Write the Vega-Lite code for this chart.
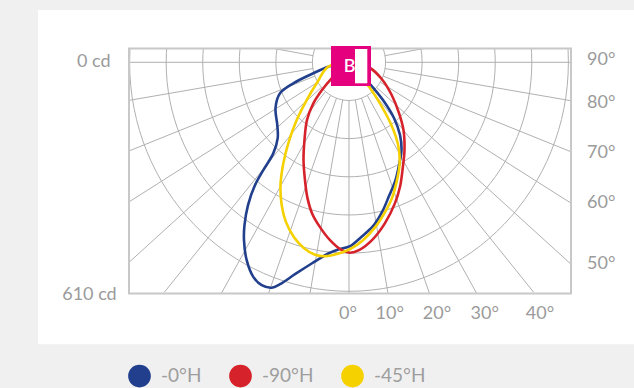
{
  "$schema": "https://vega.github.io/schema/vega-lite/v6.json",
  "width": 442,
  "height": 245,
  "autosize": "none",
  "padding": {"left": 129, "top": 48.5, "right": 63, "bottom": 94.5},
  "background": "#f0f0f0",
  "config": {"view": {"stroke": null}, "font": "Lato"},
  "datasets": {
    "panel": [{"x": -866, "y": 139.5, "x2": 900, "y2": -751.6}],
    "frame": [{"x": -612.8, "y": 36.8, "x2": 618.4, "y2": -616.3}],
    "rings": [
      {"x": 0, "y": 0, "cd": 101.67},
      {"x": 0, "y": 0, "cd": 203.33},
      {"x": 0, "y": 0, "cd": 305},
      {"x": 0, "y": 0, "cd": 406.67},
      {"x": 0, "y": 0, "cd": 508.33},
      {"x": 0, "y": 0, "cd": 610}
    ],
    "spokes": [
      {"angle": 0, "x": 0, "y": -101.67, "x2": 0, "y2": -800},
      {"angle": 10, "x": 17.65, "y": -100.13, "x2": 138.9, "y2": -787.8},
      {"angle": 20, "x": 34.77, "y": -95.54, "x2": 273.6, "y2": -751.8},
      {"angle": 30, "x": 50.84, "y": -88.05, "x2": 400, "y2": -692.8},
      {"angle": 40, "x": 65.35, "y": -77.88, "x2": 514.2, "y2": -612.8},
      {"angle": 50, "x": 76.7, "y": -66.7, "x2": 754.4, "y2": -656.5},
      {"angle": 60, "x": 86.9, "y": -52.8, "x2": 854.8, "y2": -519},
      {"angle": 70, "x": 94.9, "y": -36.6, "x2": 933, "y2": -359.8},
      {"angle": 80, "x": 100.3, "y": -16.6, "x2": 986.6, "y2": -163.5},
      {"angle": 90, "x": 101.67, "y": 0, "x2": 1000, "y2": 0},
      {"angle": 100, "x": 100.13, "y": 17.65, "x2": 984.8, "y2": 173.6},
      {"angle": -10, "x": -17.65, "y": -100.13, "x2": -138.9, "y2": -787.8},
      {"angle": -20, "x": -34.77, "y": -95.54, "x2": -273.6, "y2": -751.8},
      {"angle": -30, "x": -50.84, "y": -88.05, "x2": -400, "y2": -692.8},
      {"angle": -40, "x": -65.35, "y": -77.88, "x2": -514.2, "y2": -612.8},
      {"angle": -50, "x": -76.7, "y": -66.7, "x2": -754.4, "y2": -656.5},
      {"angle": -60, "x": -86.9, "y": -52.8, "x2": -854.8, "y2": -519},
      {"angle": -70, "x": -94.9, "y": -36.6, "x2": -933, "y2": -359.8},
      {"angle": -80, "x": -100.3, "y": -16.6, "x2": -986.6, "y2": -163.5},
      {"angle": -90, "x": -101.67, "y": 0, "x2": -1000, "y2": 0},
      {"angle": -100, "x": -100.13, "y": 17.65, "x2": -984.8, "y2": 173.6}
    ],
    "curves": [
      {"series": "-0°H", "i": 0, "x": 0, "y": 0},
      {"series": "-0°H", "i": 1, "x": -57.7, "y": -11.7},
      {"series": "-0°H", "i": 2, "x": -99.4, "y": -29.3},
      {"series": "-0°H", "i": 3, "x": -155.2, "y": -56.0},
      {"series": "-0°H", "i": 4, "x": -192.2, "y": -82.7},
      {"series": "-0°H", "i": 5, "x": -204.7, "y": -121.9},
      {"series": "-0°H", "i": 6, "x": -199.7, "y": -167.3},
      {"series": "-0°H", "i": 7, "x": -198.6, "y": -202.0},
      {"series": "-0°H", "i": 8, "x": -210.9, "y": -242.8},
      {"series": "-0°H", "i": 9, "x": -238.7, "y": -287.3},
      {"series": "-0°H", "i": 10, "x": -261.8, "y": -327.4},
      {"series": "-0°H", "i": 11, "x": -281.3, "y": -380.7},
      {"series": "-0°H", "i": 12, "x": -291.1, "y": -434.1},
      {"series": "-0°H", "i": 13, "x": -292.5, "y": -474.1},
      {"series": "-0°H", "i": 14, "x": -285.0, "y": -527.5},
      {"series": "-0°H", "i": 15, "x": -266.6, "y": -572.0},
      {"series": "-0°H", "i": 16, "x": -243.2, "y": -594.2},
      {"series": "-0°H", "i": 17, "x": -215.3, "y": -600.8},
      {"series": "-0°H", "i": 18, "x": -192.2, "y": -591.5},
      {"series": "-0°H", "i": 19, "x": -150.4, "y": -564.8},
      {"series": "-0°H", "i": 20, "x": -103.9, "y": -536.3},
      {"series": "-0°H", "i": 21, "x": -57.7, "y": -509.6},
      {"series": "-0°H", "i": 22, "x": -29.8, "y": -498.9},
      {"series": "-0°H", "i": 23, "x": 2.8, "y": -490.1},
      {"series": "-0°H", "i": 24, "x": 33.4, "y": -466.1},
      {"series": "-0°H", "i": 25, "x": 66.9, "y": -436.8},
      {"series": "-0°H", "i": 26, "x": 91.9, "y": -399.4},
      {"series": "-0°H", "i": 27, "x": 111.4, "y": -356.7},
      {"series": "-0°H", "i": 28, "x": 129.5, "y": -314.0},
      {"series": "-0°H", "i": 29, "x": 139.3, "y": -274.0},
      {"series": "-0°H", "i": 30, "x": 146.2, "y": -234.0},
      {"series": "-0°H", "i": 31, "x": 142.1, "y": -194.0},
      {"series": "-0°H", "i": 32, "x": 125.3, "y": -148.6},
      {"series": "-0°H", "i": 33, "x": 94.7, "y": -100.6},
      {"series": "-0°H", "i": 34, "x": 58.5, "y": -57.9},
      {"series": "-0°H", "i": 35, "x": 0, "y": 0},
      {"series": "-90°H", "i": 0, "x": 0, "y": 0},
      {"series": "-90°H", "i": 1, "x": -50.1, "y": -44.6},
      {"series": "-90°H", "i": 2, "x": -75.2, "y": -73.9},
      {"series": "-90°H", "i": 3, "x": -100.3, "y": -111.3},
      {"series": "-90°H", "i": 4, "x": -117.0, "y": -153.9},
      {"series": "-90°H", "i": 5, "x": -124.0, "y": -207.3},
      {"series": "-90°H", "i": 6, "x": -126.7, "y": -260.7},
      {"series": "-90°H", "i": 7, "x": -122.6, "y": -314.0},
      {"series": "-90°H", "i": 8, "x": -115.6, "y": -362.0},
      {"series": "-90°H", "i": 9, "x": -103.1, "y": -402.1},
      {"series": "-90°H", "i": 10, "x": -80.8, "y": -439.4},
      {"series": "-90°H", "i": 11, "x": -52.9, "y": -474.1},
      {"series": "-90°H", "i": 12, "x": -22.3, "y": -499.4},
      {"series": "-90°H", "i": 13, "x": 2.8, "y": -507.5},
      {"series": "-90°H", "i": 14, "x": 27.9, "y": -500.8},
      {"series": "-90°H", "i": 15, "x": 64.1, "y": -474.1},
      {"series": "-90°H", "i": 16, "x": 100.3, "y": -428.7},
      {"series": "-90°H", "i": 17, "x": 128.1, "y": -375.4},
      {"series": "-90°H", "i": 18, "x": 142.1, "y": -331.9},
      {"series": "-90°H", "i": 19, "x": 149.0, "y": -287.3},
      {"series": "-90°H", "i": 20, "x": 154.6, "y": -234.0},
      {"series": "-90°H", "i": 21, "x": 151.8, "y": -180.6},
      {"series": "-90°H", "i": 22, "x": 139.3, "y": -135.3},
      {"series": "-90°H", "i": 23, "x": 118.9, "y": -87.2},
      {"series": "-90°H", "i": 24, "x": 91.1, "y": -44.6},
      {"series": "-90°H", "i": 25, "x": 58.5, "y": -15.2},
      {"series": "-90°H", "i": 26, "x": 0, "y": 0},
      {"series": "-45°H", "i": 0, "x": 0, "y": 0},
      {"series": "-45°H", "i": 1, "x": -57.7, "y": -11.7},
      {"series": "-45°H", "i": 2, "x": -90.0, "y": -56.0},
      {"series": "-45°H", "i": 3, "x": -117.8, "y": -100.6},
      {"series": "-45°H", "i": 4, "x": -145.7, "y": -153.9},
      {"series": "-45°H", "i": 5, "x": -169.1, "y": -216.1},
      {"series": "-45°H", "i": 6, "x": -183.0, "y": -269.5},
      {"series": "-45°H", "i": 7, "x": -190.8, "y": -327.4},
      {"series": "-45°H", "i": 8, "x": -187.5, "y": -380.7},
      {"series": "-45°H", "i": 9, "x": -175.5, "y": -426.1},
      {"series": "-45°H", "i": 10, "x": -153.2, "y": -466.1},
      {"series": "-45°H", "i": 11, "x": -125.3, "y": -495.4},
      {"series": "-45°H", "i": 12, "x": -94.7, "y": -512.8},
      {"series": "-45°H", "i": 13, "x": -64.1, "y": -516.8},
      {"series": "-45°H", "i": 14, "x": -30.6, "y": -510.1},
      {"series": "-45°H", "i": 15, "x": 2.8, "y": -498.1},
      {"series": "-45°H", "i": 16, "x": 39.0, "y": -474.1},
      {"series": "-45°H", "i": 17, "x": 75.2, "y": -436.8},
      {"series": "-45°H", "i": 18, "x": 100.3, "y": -399.4},
      {"series": "-45°H", "i": 19, "x": 119.8, "y": -362.0},
      {"series": "-45°H", "i": 20, "x": 133.7, "y": -314.0},
      {"series": "-45°H", "i": 21, "x": 140.7, "y": -274.0},
      {"series": "-45°H", "i": 22, "x": 139.3, "y": -234.0},
      {"series": "-45°H", "i": 23, "x": 130.9, "y": -199.3},
      {"series": "-45°H", "i": 24, "x": 114.2, "y": -159.3},
      {"series": "-45°H", "i": 25, "x": 89.1, "y": -113.9},
      {"series": "-45°H", "i": 26, "x": 58.5, "y": -68.6},
      {"series": "-45°H", "i": 27, "x": 0, "y": 0}
    ],
    "badge": [{"x": -50.1, "y": 43.5, "x2": 61.3, "y2": -63.2}],
    "badgeInner": [{"x": 16.7, "y": 35.5, "x2": 51.0, "y2": -56.0}],
    "badgeText": [{"x": 1.9, "y": -12.5, "label": "B"}],
    "leftLabels": [
      {"x": -664.3, "y": 0, "label": "0 cd"},
      {"x": -647.1, "y": -620.8, "label": "610 cd"}
    ],
    "rightLabels": [
      {"x": 663, "y": 6.1, "label": "90°"},
      {"x": 663, "y": -107.8, "label": "80°"},
      {"x": 663, "y": -242.8, "label": "70°"},
      {"x": 663, "y": -376.2, "label": "60°"},
      {"x": 663, "y": -538.9, "label": "50°"}
    ],
    "bottomLabels": [
      {"x": -2.8, "y": -669.7, "label": "0°"},
      {"x": 113.4, "y": -669.7, "label": "10°"},
      {"x": 245.1, "y": -669.7, "label": "20°"},
      {"x": 378.0, "y": -669.7, "label": "30°"},
      {"x": 532.0, "y": -669.7, "label": "40°"}
    ]
  },
  "encoding": {
    "x": {"field": "x", "type": "quantitative", "scale": {"domain": [-612.8, 618.4], "nice": false, "zero": false}, "axis": null},
    "y": {"field": "y", "type": "quantitative", "scale": {"domain": [-616.3, 36.8], "nice": false, "zero": false}, "axis": null}
  },
  "layer": [
    {
      "data": {"name": "panel"},
      "mark": {"type": "rect", "fill": "#ffffff", "clip": false},
      "encoding": {"x2": {"field": "x2"}, "y2": {"field": "y2"}}
    },
    {
      "data": {"name": "rings"},
      "mark": {"type": "point", "shape": "M 0 -1 C 0.529 -1 0.958 -0.5523 0.958 0 C 0.958 0.5523 0.529 1 0 1 C -0.529 1 -0.958 0.5523 -0.958 0 C -0.958 -0.5523 -0.529 -1 0 -1 Z", "filled": false, "clip": true, "stroke": "#b0b0b0", "strokeWidth": 1, "opacity": 1},
      "encoding": {"size": {"field": "cd", "type": "quantitative", "scale": {"type": "pow", "exponent": 2, "domain": [0, 610], "range": [0, 209764]}, "legend": null}}
    },
    {
      "data": {"name": "spokes"},
      "mark": {"type": "rule", "clip": true, "stroke": "#b0b0b0", "strokeWidth": 1},
      "encoding": {"x2": {"field": "x2"}, "y2": {"field": "y2"}}
    },
    {
      "data": {"name": "frame"},
      "mark": {"type": "rect", "fill": null, "fillOpacity": 0, "stroke": "#c8c8c8", "strokeWidth": 2, "clip": false},
      "encoding": {"x2": {"field": "x2"}, "y2": {"field": "y2"}}
    },
    {
      "data": {"name": "curves"},
      "mark": {"type": "line", "interpolate": "catmull-rom", "strokeWidth": 2.6, "clip": false},
      "encoding": {
        "order": {"field": "i", "type": "quantitative"},
        "color": {
          "field": "series",
          "type": "nominal",
          "scale": {"domain": ["-0°H", "-90°H", "-45°H"], "range": ["#213f8c", "#d6222a", "#f6d100"]},
          "legend": {
            "orient": "none",
            "legendX": -1,
            "legendY": 316,
            "direction": "horizontal",
            "title": null,
            "symbolType": "circle",
            "symbolSize": 515,
            "symbolStrokeWidth": 0,
            "labelFont": "Lato",
            "labelFontSize": 19,
            "labelFontWeight": "normal",
            "labelColor": "#9e9e9e",
            "labelOffset": 10,
            "columnPadding": 27,
            "padding": 0,
            "encode": {"symbols": {"update": {"fill": {"scale": "color", "field": "value"}, "fillOpacity": {"value": 1}, "strokeWidth": {"value": 0}}}}
          }
        }
      }
    },
    {
      "data": {"name": "badge"},
      "mark": {"type": "rect", "fill": "#e5007d", "clip": false},
      "encoding": {"x2": {"field": "x2"}, "y2": {"field": "y2"}}
    },
    {
      "data": {"name": "badgeInner"},
      "mark": {"type": "rect", "fill": "#ffffff", "clip": false},
      "encoding": {"x2": {"field": "x2"}, "y2": {"field": "y2"}}
    },
    {
      "data": {"name": "badgeText"},
      "mark": {"type": "text", "font": "Lato", "fontSize": 18, "fontWeight": 600, "color": "#ffffff", "align": "center", "baseline": "middle"},
      "encoding": {"text": {"field": "label"}}
    },
    {
      "data": {"name": "leftLabels"},
      "mark": {"type": "text", "font": "Lato", "fontSize": 18, "fontWeight": "normal", "color": "#9b9b9b", "align": "right", "baseline": "middle"},
      "encoding": {"text": {"field": "label"}}
    },
    {
      "data": {"name": "rightLabels"},
      "mark": {"type": "text", "font": "Lato", "fontSize": 18, "fontWeight": "normal", "color": "#9b9b9b", "align": "left", "baseline": "middle"},
      "encoding": {"text": {"field": "label"}}
    },
    {
      "data": {"name": "bottomLabels"},
      "mark": {"type": "text", "font": "Lato", "fontSize": 18, "fontWeight": "normal", "color": "#9b9b9b", "align": "center", "baseline": "middle"},
      "encoding": {"text": {"field": "label"}}
    }
  ]
}
